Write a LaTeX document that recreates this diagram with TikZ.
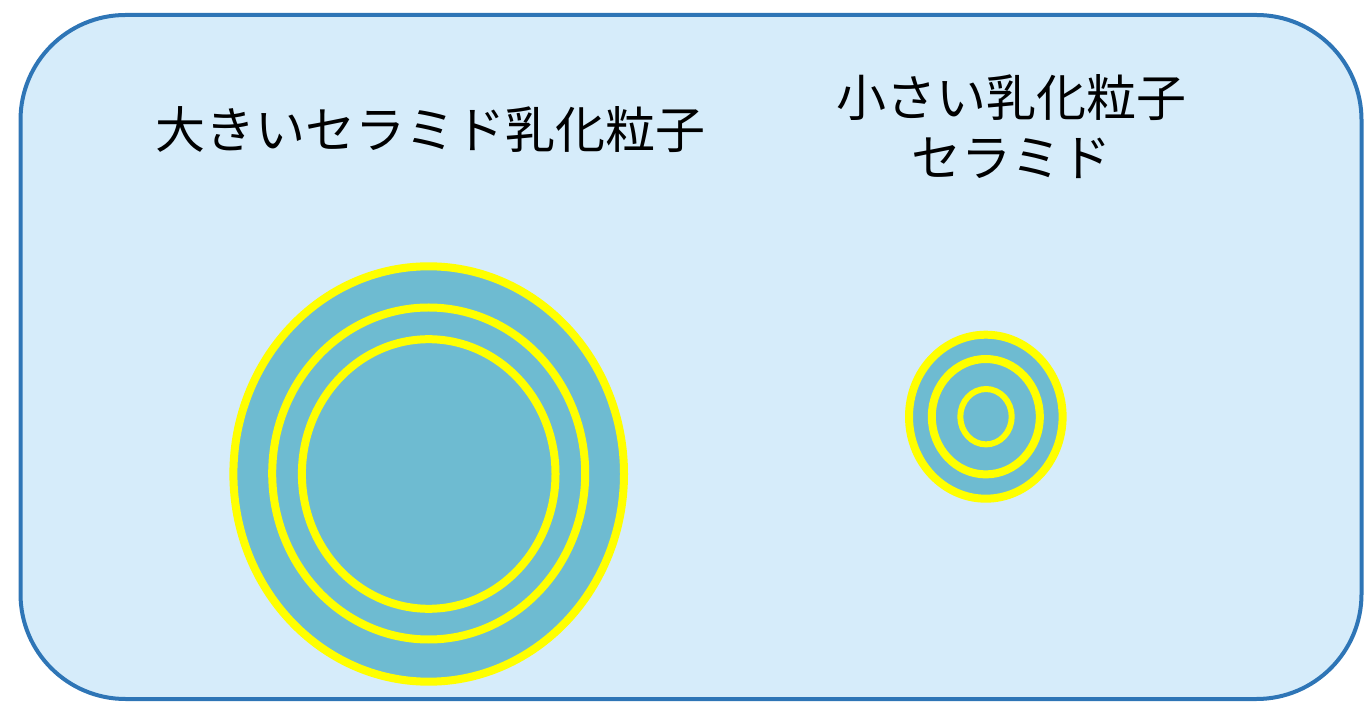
\documentclass[tikz,border=0pt]{standalone}
\usepackage{fontspec}
\newfontfamily\jpfont{Noto Sans CJK JP}
\definecolor{frameblue}{RGB}{46,117,182}
\definecolor{bgblue}{RGB}{214,236,250}
\definecolor{teal}{RGB}{110,187,209}
\definecolor{ringyellow}{RGB}{255,255,0}
\tikzset{
  panel/.style={draw=frameblue, line width=2pt, fill=bgblue, rounded corners=52.5pt},
  outerring/.style={draw=ringyellow, line width=4pt, fill=teal},
  ring/.style={draw=ringyellow, line width=4pt},
  thinring/.style={draw=ringyellow, line width=3pt},
  label/.style={font=\jpfont\fontsize{25pt}{30pt}\selectfont, align=center, text=black, inner sep=0pt}
}
\begin{document}
\begin{tikzpicture}[x=0.5pt,y=0.5pt]
\useasboundingbox (0,0) rectangle (1364,701);
\draw[panel] (20.5,2) rectangle (1361.5,686);
% large particle
\draw[outerring] (428.7,227) ellipse [x radius=195.3, y radius=207.7];
\draw[ring] (428.7,227.5) ellipse [x radius=156.5, y radius=166];
\draw[ring] (428.7,227) ellipse [x radius=126.8, y radius=134.8];
% small particle
\draw[outerring] (985.8,284.3) ellipse [x radius=76.8, y radius=82];
\draw[ring] (985.8,284.3) ellipse [x radius=54, y radius=57.7];
\draw[thinring] (986,284.3) ellipse [x radius=25.7, y radius=27.7];
\node[label] (big) at (430,571) {大きいセラミド乳化粒子};
\node[label] (small) at (1011,574) {小さい乳化粒子\\セラミド};
\end{tikzpicture}
\end{document}
